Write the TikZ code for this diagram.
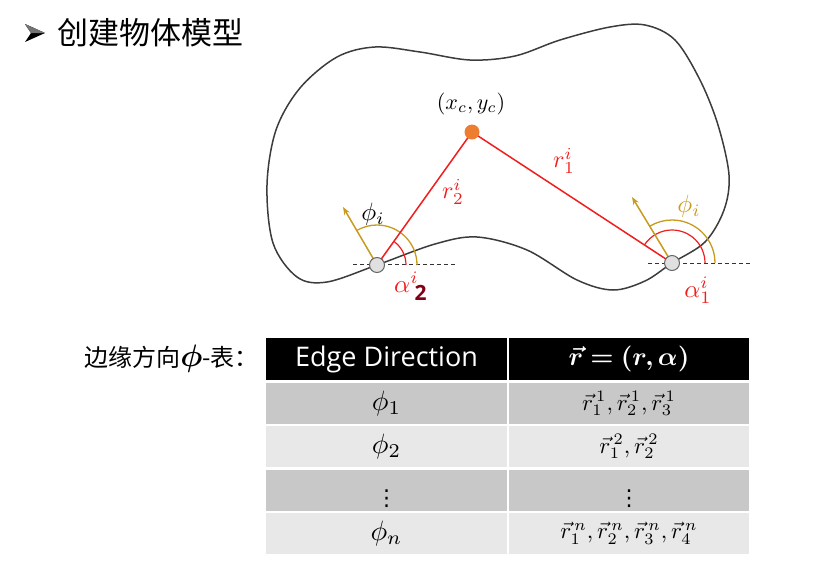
\documentclass[tikz,border=0pt]{standalone}
\usepackage{amsmath,bm}
\usepackage{graphicx}
\usepackage{fontspec}
\newfontfamily\cjk{Noto Sans CJK SC}
\newfontfamily\hdr{Open Sans}
\newfontfamily\dejavu{DejaVu Sans}
\usetikzlibrary{arrows.meta}
\newcommand\mth[2][2.2]{\scalebox{#1}{$#2$}}
\definecolor{redl}{RGB}{240,30,30}
\definecolor{goldl}{RGB}{200,155,30}
\definecolor{orangedot}{RGB}{237,125,49}
\definecolor{darkredt}{RGB}{130,0,20}
\definecolor{blobc}{RGB}{60,60,60}
\definecolor{rowdark}{RGB}{200,200,200}
\definecolor{rowlight}{RGB}{232,232,232}
\pgfdeclarelayer{bg}
\pgfsetlayers{bg,main}
\tikzset{
  blobline/.style={draw=blobc,line width=1.5pt},
  redline/.style={draw=redl,line width=1.5pt},
  goldarc/.style={draw=goldl,line width=1.3pt},
  redarc/.style={draw=redl,line width=1.2pt},
  goldarrow/.style={draw=goldl,line width=1.5pt,-{Stealth[length=8pt,width=6pt]}},
  dashline/.style={draw=black!80,line width=1pt,dash pattern=on 4pt off 3pt},
  edgept/.style={circle,draw=black!60,fill=black!12,line width=1pt,minimum size=15pt,inner sep=0pt},
  cdot/.style={circle,fill=orangedot,minimum size=15pt,inner sep=0pt},
  lbl/.style={inner sep=0pt},
  hcell/.style={fill=black,text=white,minimum height=42pt,inner sep=0pt},
  dcell/.style={fill=rowdark,minimum height=41pt,inner sep=0pt},
  lcell/.style={fill=rowlight,minimum height=41pt,inner sep=0pt},
  lcol/.style={minimum width=241pt},
  rcol/.style={minimum width=240pt},
  vdot/.style={inner sep=0pt,font=\dejavu\fontsize{22}{22}\selectfont},
}
\begin{document}
\begin{tikzpicture}[x=1pt,y=-1pt]
\useasboundingbox (0,0) rectangle (814,587);
% title bullet
\fill[black] (25,24) -- (45,33) -- (25,42) -- (31,33) -- cycle;
\fill[black!55] (25,24) -- (45,33) -- (31,33) -- cycle;
\node[inner sep=0pt,anchor=west,font=\cjk\fontsize{31}{31}\selectfont] (title) at (57,33) {创建物体模型};
% blob
\begin{pgfonlayer}{bg}
\draw[blobline] plot[smooth cycle, tension=0.55] coordinates {
 (267,185) (276,130) (300,88) (337,57) (375,47) (420,52) (470,60) (515,56) (560,40)
 (610,27) (645,25) (675,40) (700,80) (718,125) (729,175) (724,210) (705,242)
 (672,263) (645,281) (613,290) (577,280) (527,250) (477,237) (435,244)
 (377,265) (327,282) (297,277) (273,243)};
\end{pgfonlayer}
% points
\node[cdot] (C) at (472,132) {};
\node[lbl] (Clab) at (471,104) {\mth[2.2]{(x_c,y_c)}};
\node[edgept] (P2) at (377,265) {};
\node[edgept] (P1) at (672,263) {};
\coordinate (L2a) at (353,264);
\coordinate (L2b) at (457,264);
\coordinate (L1a) at (648,263);
\coordinate (L1b) at (751,263);
\coordinate (A2) at (343,207);
\coordinate (A1) at (632,197);
\begin{pgfonlayer}{bg}
\draw[dashline] (L2a) -- (L2b);
\draw[dashline] (L1a) -- (L1b);
\draw[goldarc] ([shift={(0:40)}]P2.center) arc[start angle=0,end angle=-120.4,radius=40];
\draw[redarc] ([shift={(0:29)}]P2.center) arc[start angle=0,end angle=-54.5,radius=29];
\draw[goldarc] ([shift={(0:43)}]P1.center) arc[start angle=0,end angle=-121,radius=43];
\draw[redarc] ([shift={(0:33)}]P1.center) arc[start angle=0,end angle=-146.8,radius=33];
\draw[redline] (C.center) -- (P2.center);
\draw[redline] (C.center) -- (P1.center);
\draw[goldarrow] (P2.center) -- (A2);
\draw[goldarrow] (P1.center) -- (A1);
\end{pgfonlayer}
% labels
\node[lbl] (phil) at (373,214) {\mth[2.5]{\phi_i}};
\node[lbl,text=goldl] (phir) at (689,206) {\mth[2.5]{\phi_i}};
\node[lbl,text=redl] (r2) at (453,192) {\mth[2.4]{r_2^i}};
\node[lbl,text=redl] (r1) at (564,161) {\mth[2.4]{r_1^i}};
\node[lbl,text=redl,anchor=south west] (a2) at (394,301) {\mth[2.5]{\alpha^{i}}\kern-4pt\raisebox{-8pt}{\fontsize{21}{21}\selectfont\hdr\bfseries\color{darkredt}2}};
\node[lbl,text=redl] (a1) at (698,290) {\mth[2.5]{\alpha_1^i}};
% table label
\node[inner sep=0pt,anchor=east,font=\cjk\fontsize{24}{26}\selectfont] (tlabel) at (259,359) {边缘方向\mth[1.25]{\bm{\phi}}-表：};
% table
\node[hcell,lcol,font=\hdr\fontsize{27}{29}\selectfont] (h1) at (386.5,359) {Edge Direction};
\node[hcell,rcol] (h2) at (629,359) {\mth[2.6]{\bm{\vec{r}=(r,\alpha)}}};
\node[dcell,lcol] (c11) at (386.5,403.5) {\mth[2.8]{\phi_1}};
\node[dcell,rcol] (c12) at (629,403.5) {\mth[2.3]{\vec{r}^{\,1}_1,\vec{r}^{\,1}_2,\vec{r}^{\,1}_3}};
\node[lcell,lcol] (c21) at (386.5,446.5) {\mth[2.8]{\phi_2}};
\node[lcell,rcol] (c22) at (629,446.5) {\mth[2.3]{\vec{r}^{\,2}_1,\vec{r}^{\,2}_2}};
\node[dcell,lcol] (c31) at (386.5,490) {};
\node[dcell,rcol] (c32) at (629,490) {};
\node[lcell,lcol] (c41) at (386.5,533.5) {\mth[2.8]{\phi_n}};
\node[lcell,rcol] (c42) at (629,533.5) {\mth[2.3]{\vec{r}^{\,n}_1,\vec{r}^{\,n}_2,\vec{r}^{\,n}_3,\vec{r}^{\,n}_4}};
\node[vdot] (v1) at (386.5,499) {⋮};
\node[vdot] (v2) at (629,499) {⋮};
\end{tikzpicture}
\end{document}
